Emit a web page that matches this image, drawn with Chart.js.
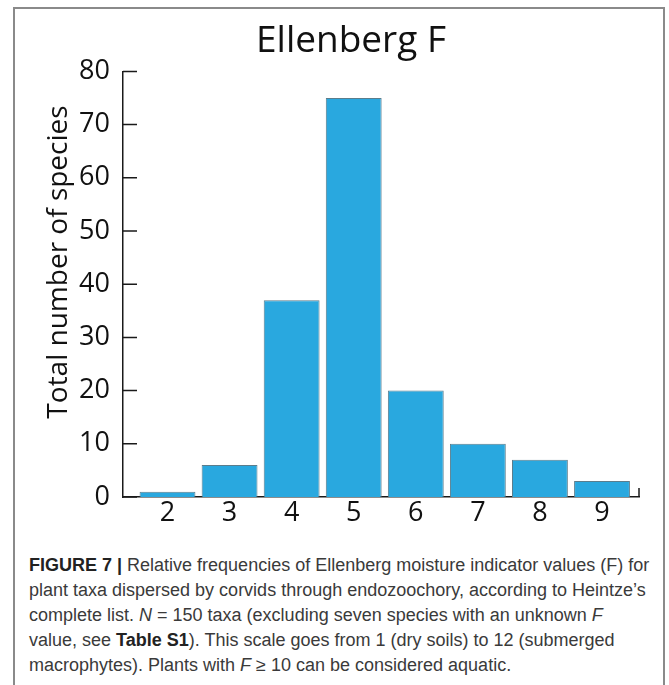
<!DOCTYPE html>
<html>
<head>
<meta charset="utf-8">
<title>Ellenberg F</title>
<script src="https://cdn.jsdelivr.net/npm/chart.js@4.4.0/dist/chart.umd.min.js"></script>
<style>
  html, body { margin: 0; padding: 0; background: #fff; }
  #frame { position: absolute; left: 13px; top: 7px; width: 652px; height: 700px; border: 2px solid #8a8a8a; box-sizing: border-box; pointer-events: none; }
  #wrap { position: absolute; left: 0; top: 0; width: 669px; height: 550px; }
  #cap { position: absolute; left: 29px; top: 553px; font: 18px/25px "Liberation Sans", Arial, sans-serif; color: #3a3a3a; white-space: nowrap; }
  #cap b { color: #222; }
</style>
</head>
<body>
<div id="wrap"><canvas id="chart" width="669" height="550"></canvas></div>
<div id="cap">
<b>FIGURE 7 |</b> Relative frequencies of Ellenberg moisture indicator values (F) for<br>
plant taxa dispersed by corvids through endozoochory, according to Heintze’s<br>
complete list. <i>N</i> = 150 taxa (excluding seven species with an unknown <i>F</i><br>
value, see <b>Table S1</b>). This scale goes from 1 (dry soils) to 12 (submerged<br>
macrophytes). Plants with <i>F</i> ≥ 10 can be considered aquatic.
</div>
<div id="frame"></div>
<script>
// Ellenberg F values and number of species per value
const categories = [2, 3, 4, 5, 6, 7, 8, 9];
const counts = [1, 6, 37, 75, 20, 10, 7, 3];
const yTicks = [0, 10, 20, 30, 40, 50, 60, 70, 80];

const axisFont = '"Open Sans", "DejaVu Sans", sans-serif';

// inward tick marks, end tick on the x axis and the y axis title
const extras = {
    id: 'extras',
    afterDraw: function (chart) {
        const ctx = chart.ctx;
        const a = chart.chartArea;
        const x = chart.scales.x;
        const y = chart.scales.y;
        ctx.save();
        ctx.strokeStyle = '#1a1a1a';
        ctx.lineWidth = 1.5;
        ctx.beginPath();
        yTicks.forEach(function (v) {
            const py = y.getPixelForValue(v);
            ctx.moveTo(a.left, py);
            ctx.lineTo(a.left + 14, py);
        });
        const ex = x.getPixelForValue(x.max);
        ctx.moveTo(ex, a.bottom);
        ctx.lineTo(ex, a.bottom - 9);
        ctx.stroke();

        ctx.translate(59, 262);
        ctx.rotate(-Math.PI / 2);
        ctx.fillStyle = '#111';
        ctx.font = '28px ' + axisFont;
        ctx.textAlign = 'center';
        ctx.textBaseline = 'middle';
        ctx.fillText('Total number of species', 0, 0);
        ctx.restore();
    }
};

const ctx = document.getElementById('chart').getContext('2d');
const chart = new Chart(ctx, {
    type: 'bar',
    data: {
        datasets: [{
            label: 'Species',
            data: categories.map(function (c, i) { return { x: c, y: counts[i] }; }),
            backgroundColor: '#29a8df',
            borderColor: '#5b7d8c',
            borderWidth: 1,
            barPercentage: 1,
            categoryPercentage: 0.9
        }]
    },
    options: {
        responsive: false,
        animation: false,
        layout: { padding: { left: 63, right: 30, top: 0, bottom: 0 } },
        plugins: {
            legend: { display: false },
            tooltip: { enabled: false },
            title: {
                display: true,
                text: 'Ellenberg F',
                color: '#111',
                font: { family: axisFont, size: 37, weight: 'normal' },
                padding: { top: 19, bottom: 8 }
            }
        },
        scales: {
            x: {
                type: 'linear',
                min: 1.283,
                max: 9.596,
                offset: false,
                grid: { display: false, drawTicks: false, offset: false },
                border: { display: true, color: '#1a1a1a', width: 1.5 },
                afterBuildTicks: function (s) {
                    s.ticks = categories.map(function (v) { return { value: v }; });
                },
                afterFit: function (s) { s.height = 53; },
                ticks: {
                    color: '#111',
                    padding: 0,
                    maxRotation: 0,
                    autoSkip: false,
                    font: { family: axisFont, size: 27 },
                    callback: function (v) { return String(v); }
                }
            },
            y: {
                min: 0,
                max: 80,
                grid: { display: false, drawTicks: false },
                border: { display: true, color: '#1a1a1a', width: 1.5 },
                afterBuildTicks: function (s) {
                    s.ticks = yTicks.map(function (v) { return { value: v }; });
                },
                afterFit: function (s) { s.width = 60; },
                ticks: {
                    color: '#111',
                    padding: 13,
                    font: { family: axisFont, size: 27 }
                }
            }
        }
    },
    plugins: [extras]
});
</script>
</body>
</html>
